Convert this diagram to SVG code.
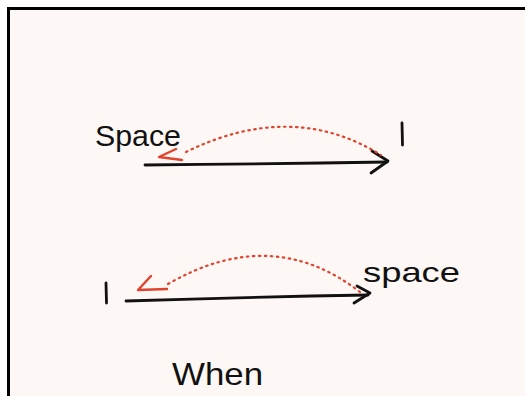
<svg xmlns="http://www.w3.org/2000/svg" width="525" height="396" viewBox="0 0 525 396">
<style>
.lbl{font-family:"Liberation Sans","DejaVu Sans",sans-serif;fill:#111;}
.ink{stroke:#111;stroke-width:2.8;fill:none;stroke-linecap:round;stroke-linejoin:round;}
.red{stroke:#e0442c;stroke-width:2.4;fill:none;stroke-linecap:round;stroke-linejoin:round;}
.dot{stroke:#e0442c;stroke-width:2.2;fill:none;stroke-dasharray:1.5 4.5;stroke-linecap:round;}
</style>
<rect x="0" y="0" width="525" height="396" fill="#ffffff"/>
<rect x="9" y="8" width="516" height="388" fill="#fdf8f5"/>
<path d="M8.5 396 V8.5 H525" stroke="#000" stroke-width="3" fill="none"/>
<g id="label-space-top"><text class="lbl" x="95" y="146" font-size="30" textLength="86" lengthAdjust="spacingAndGlyphs">Space</text></g>
<g id="label-one-top"><path class="ink" d="M402 123 L402.5 145"/></g>
<g id="label-one-bottom"><path class="ink" d="M106 283 L106.5 303"/></g>
<g id="label-space-bottom"><text class="lbl" x="363" y="282" font-size="28" textLength="97" lengthAdjust="spacingAndGlyphs">space</text></g>
<g id="label-when"><text class="lbl" x="172" y="385" font-size="32" textLength="91" lengthAdjust="spacingAndGlyphs">When</text></g>
<g id="connectors">
<path class="ink" d="M145 165 Q270 164 387 162"/>
<path class="ink" d="M372 151 L388 161 L371 173"/>
<path class="dot" d="M186 152 Q292 100 381 155"/>
<path class="red" d="M176 149 L159 157 L182 160"/>
<path class="ink" d="M126 301 Q250 297 368 295"/>
<path class="ink" d="M357 286 L370 293 L354 303"/>
<path class="dot" d="M168 284 Q272 224 360 292"/>
<path class="red" d="M151 276 L138 290 L167 289"/>
</g>
</svg>
